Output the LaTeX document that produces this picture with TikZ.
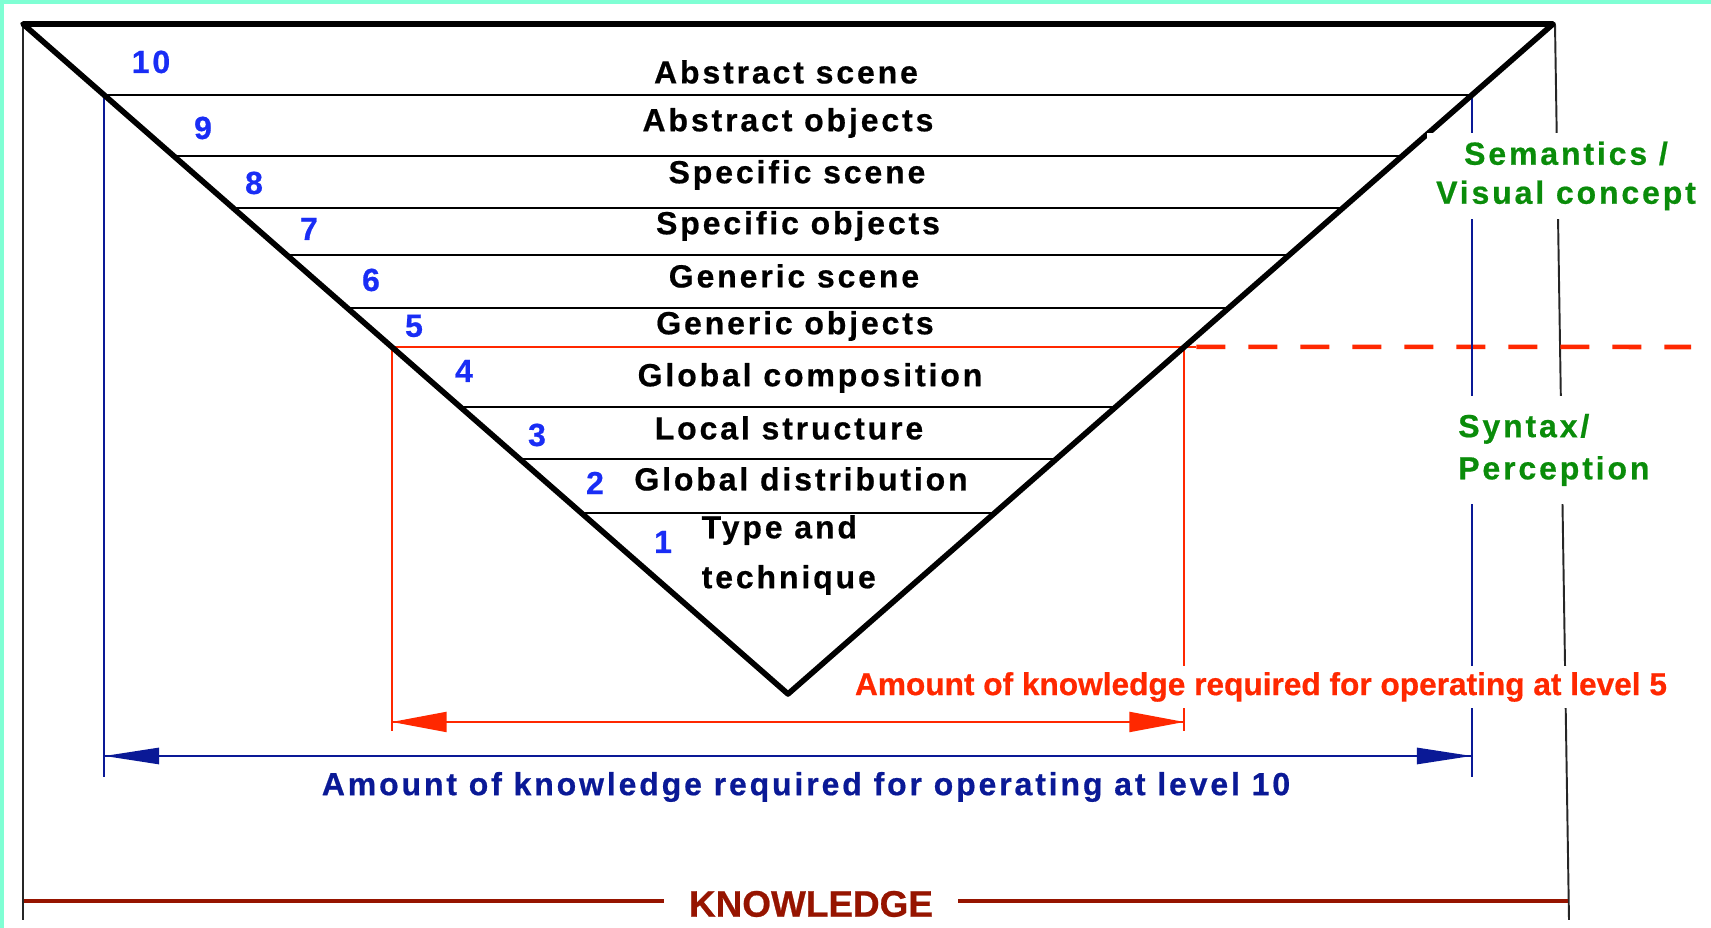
\documentclass[tikz,border=0pt]{standalone}
\usepackage{fontspec}
\usetikzlibrary{arrows.meta,calc}
\newfontfamily\pixfont[LetterSpace=9,FakeBold=0.6]{Liberation Sans}
\newfontfamily\plainfont[FakeBold=0.6]{Liberation Sans}
\definecolor{aqua}{RGB}{127,255,212}
\definecolor{digitblue}{RGB}{25,45,245}
\definecolor{navy}{RGB}{10,25,150}
\definecolor{vivid}{RGB}{255,40,0}
\definecolor{leaf}{RGB}{10,140,10}
\definecolor{rust}{RGB}{150,20,0}
\tikzset{
  rung/.style={draw=black, line width=0.6pt},
  frame/.style={draw=black!85, line width=0.55pt},
  tier/.style={font=\pixfont\bfseries\fontsize{9.1}{14.2}\selectfont, inner sep=0pt},
  tiernum/.style={font=\pixfont\bfseries\fontsize{9.1}{10}\selectfont, text=digitblue, inner sep=0pt},
  navyline/.style={draw=navy, line width=0.5pt},
  redline/.style={draw=vivid, line width=0.5pt},
  sidelabel/.style={font=\pixfont\bfseries\fontsize{9.1}{11.1}\selectfont, text=leaf, fill=white, inner sep=2.5pt}
}
\begin{document}
\begin{tikzpicture}
\useasboundingbox (0,0) rectangle (17.11,9.28);
\fill[aqua] (0,0) rectangle (0.04,9.28);
\fill[aqua] (0,9.24) rectangle (17.11,9.28);

\coordinate (tl) at (0.23,9.04);
\coordinate (tr) at (15.53,9.04);
\coordinate (ap) at (7.88,2.34);
\coordinate (w10) at ($(tl)!0.106!(ap)$);
\coordinate (e10) at ($(tr)!0.106!(ap)$);
\coordinate (w9) at ($(tl)!0.197!(ap)$);
\coordinate (e9) at ($(tr)!0.197!(ap)$);
\coordinate (w8) at ($(tl)!0.275!(ap)$);
\coordinate (e8) at ($(tr)!0.275!(ap)$);
\coordinate (w7) at ($(tl)!0.345!(ap)$);
\coordinate (e7) at ($(tr)!0.345!(ap)$);
\coordinate (w6) at ($(tl)!0.424!(ap)$);
\coordinate (e6) at ($(tr)!0.424!(ap)$);
\coordinate (w5) at ($(tl)!0.482!(ap)$);
\coordinate (e5) at ($(tr)!0.482!(ap)$);
\coordinate (w4) at ($(tl)!0.572!(ap)$);
\coordinate (e4) at ($(tr)!0.572!(ap)$);
\coordinate (w3) at ($(tl)!0.649!(ap)$);
\coordinate (e3) at ($(tr)!0.649!(ap)$);
\coordinate (w2) at ($(tl)!0.730!(ap)$);
\coordinate (e2) at ($(tr)!0.730!(ap)$);
\coordinate (tick5) at (0,1.97);
\coordinate (arr5) at (0,2.06);
\coordinate (tick10) at (0,1.51);
\coordinate (arr10) at (0,1.72);

\draw[frame] (tl)--(0.23,0.08);
\draw[frame] (15.55,9.04)--(15.69,0.08);
\draw[draw=rust, line width=1.1pt] (0.24,0.27)--(15.68,0.27);

\draw[rung] (w10)--(e10);
\draw[rung] (w9)--(e9);
\draw[rung] (w8)--(e8);
\draw[rung] (w7)--(e7);
\draw[rung] (w6)--(e6);
\draw[rung] (w4)--(e4);
\draw[rung] (w3)--(e3);
\draw[rung] (w2)--(e2);
\draw[draw=vivid, line width=0.8pt] (w5)--(e5)--($(e5)+(0.12,0)$);
\draw[draw=vivid, line width=1.3pt, dash pattern=on 0.29cm off 0.23cm] ($(e5)+(0.12,0)$)--(16.91,5.81);

\draw[navyline] (w10)--(w10 |- tick10);
\draw[navyline] (e10)--(e10 |- tick10);
\draw[navy, line width=0.8pt, -{Triangle[length=5.5mm,width=1.6mm]}] (w10 |- arr10)--(e10 |- arr10);
\draw[navy, line width=0.8pt, -{Triangle[length=5.5mm,width=1.6mm]}] (e10 |- arr10)--(w10 |- arr10);

\draw[redline] (w5)--(w5 |- tick5);
\draw[redline] (e5)--(e5 |- tick5);
\draw[vivid, line width=0.6pt, -{Triangle[length=5.5mm,width=2mm]}] (w5 |- arr5)--(e5 |- arr5);
\draw[vivid, line width=0.6pt, -{Triangle[length=5.5mm,width=2mm]}] (e5 |- arr5)--(w5 |- arr5);

\draw[line width=1.6pt, line join=round] (tl)--(ap)--(tr)--cycle;

\node [tier] (abscene) at (7.86,8.56) {Abstract scene};
\node [tier] (abobj) at (7.88,8.05) {Abstract objects};
\node [tier] (spscene) at (7.97,7.53) {Specific scene};
\node [tier] (spobj) at (7.98,7.02) {Specific objects};
\node [tier] (genscene) at (7.94,6.52) {Generic scene};
\node [tier] (genobj) at (7.95,6.02) {Generic objects};
\node [tier] (glcomp) at (8.10,5.50) {Global composition};
\node [tier] (locstr) at (7.89,5.00) {Local structure};
\node [tier] (gldist) at (8.01,4.49) {Global distribution};
\node [tier, align=left, anchor=west] (typetech) at (7.01,3.73) {Type and\\technique};

\node [tiernum] (n10) at (1.51,8.66) {10};
\node [tiernum] (n9) at (2.03,8.00) {9};
\node [tiernum] (n8) at (2.54,7.45) {8};
\node [tiernum] (n7) at (3.09,6.99) {7};
\node [tiernum] (n6) at (3.71,6.48) {6};
\node [tiernum] (n5) at (4.14,6.02) {5};
\node [tiernum] (n4) at (4.64,5.57) {4};
\node [tiernum] (n3) at (5.37,4.93) {3};
\node [tiernum] (n2) at (5.95,4.45) {2};
\node [tiernum] (n1) at (6.63,3.86) {1};

\node [sidelabel, align=center] (semantics) at (15.66,7.52) {Semantics /\\Visual concept};
\node [sidelabel, align=left, anchor=west, inner sep=5pt, font=\pixfont\bfseries\fontsize{9.1}{12}\selectfont] (syntax) at (14.40,4.78) {Syntax/\\Perception};

\node [fill=white, inner sep=1.7pt, text=vivid, font=\plainfont\bfseries\fontsize{9}{10}\selectfont] (lvl5) at (12.61,2.41) {Amount of knowledge required for operating at level 5};
\node [text=navy, inner sep=0pt, font=\pixfont\bfseries\fontsize{9.1}{10}\selectfont] (lvl10) at (8.06,1.41) {Amount of knowledge required for operating at level 10};
\node [fill=white, inner xsep=0.25cm, inner ysep=1pt, text=rust, font=\plainfont\bfseries\fontsize{10.5}{12}\selectfont] (knowledge) at (8.11,0.24) {KNOWLEDGE};
\end{tikzpicture}
\end{document}
